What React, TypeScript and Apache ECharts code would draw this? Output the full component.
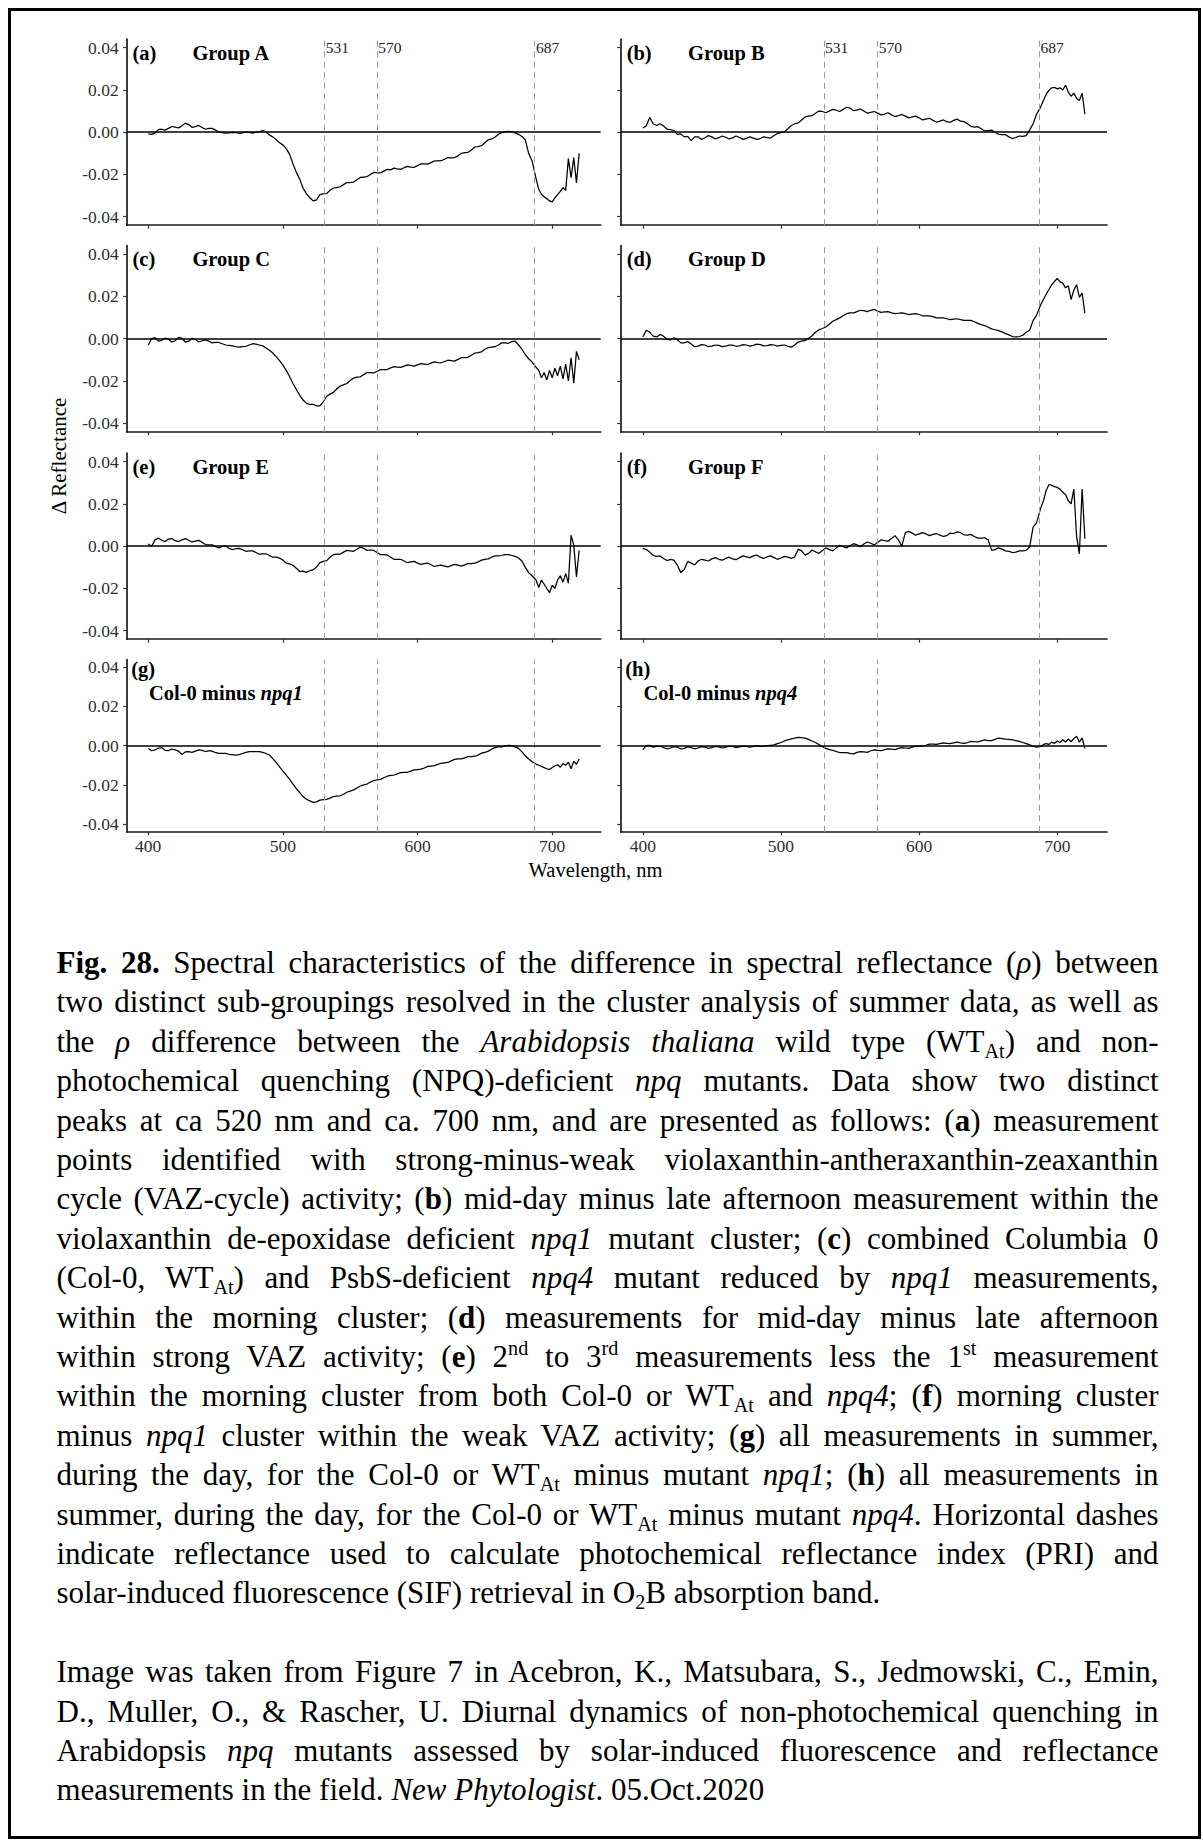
import React, { useEffect, useRef } from "react";
import * as echarts from "echarts";

// ---------------- data ----------------
const WAVELENGTHS = [
  400, 402.5, 405, 407.5, 410, 412.5, 415, 417.5, 420, 422.5,
  425, 427.5, 430, 432.5, 435, 437.5, 440, 442.5, 445, 447.5,
  450, 452.5, 455, 457.5, 460, 462.5, 465, 467.5, 470, 472.5,
  475, 477.5, 480, 482.5, 485, 487.5, 490, 492.5, 495, 497.5,
  500, 502.5, 505, 507.5, 510, 512.5, 515, 517.5, 520, 522.5,
  525, 527.5, 530, 532.5, 535, 537.5, 540, 542.5, 545, 547.5,
  550, 552.5, 555, 557.5, 560, 562.5, 565, 567.5, 570, 572.5,
  575, 577.5, 580, 582.5, 585, 587.5, 590, 592.5, 595, 597.5,
  600, 602.5, 605, 607.5, 610, 612.5, 615, 617.5, 620, 622.5,
  625, 627.5, 630, 632.5, 635, 637.5, 640, 642.5, 645, 647.5,
  650, 652.5, 655, 657.5, 660, 662.5, 665, 667.5, 670, 672.5,
  675, 677.5, 680, 682.5, 685,
  688,
  690, 692, 694, 696, 698, 700, 702, 704, 706, 708, 710, 712, 714, 716, 718, 720,
];

const GROUP_A = [
  -0.0008, -0.001, -0.0004, 0.0012, 0.0014, 0.001, 0.0018, 0.0027, 0.0024, 0.002,
  0.003, 0.0043, 0.0036, 0.0023, 0.0026, 0.0032, 0.0022, 0.0014, 0.0018, 0.0018,
  0.001, 0.0, -0.0002, -0.0004, -0.0003, -0.0001, -0.0002, -0.0005, -0.0003, 0.0,
  -0.0001, -0.0004, 0.0, 0.0002, 0.0008, 0.0002, -0.0014, -0.0022, -0.0036, -0.005,
  -0.006, -0.0078, -0.0105, -0.015, -0.019, -0.0222, -0.0265, -0.0292, -0.031, -0.0325,
  -0.032, -0.0295, -0.0292, -0.029, -0.0275, -0.0264, -0.0262, -0.0258, -0.0248, -0.0238,
  -0.0238, -0.0236, -0.0225, -0.0214, -0.0212, -0.021, -0.02, -0.019, -0.0192, -0.0192,
  -0.0184, -0.0176, -0.0178, -0.017, -0.0174, -0.0176, -0.0168, -0.0162, -0.0165, -0.0166,
  -0.0158, -0.015, -0.015, -0.0151, -0.0144, -0.0136, -0.0136, -0.0135, -0.0128, -0.012,
  -0.0121, -0.012, -0.0112, -0.01, -0.0097, -0.0095, -0.0084, -0.007, -0.0068, -0.0064,
  -0.005, -0.0036, -0.0032, -0.0024, -0.001, -0.0002, 0.0002, 0.0004, 0.0002, -0.0003,
  -0.001, -0.002, -0.0036, -0.01, -0.0135,
  -0.022,
  -0.027, -0.0295, -0.0305, -0.0315, -0.0325, -0.033, -0.031, -0.0295, -0.028, -0.0262, -0.0275, -0.0125, -0.0215, -0.012, -0.024, -0.01,
];
const GROUP_B = [
  0.002, 0.003, 0.007, 0.004, 0.0032, 0.004, 0.003, 0.0014, 0.0012, 0.0008,
  -0.001, -0.0008, -0.0022, -0.002, -0.004, -0.0022, -0.0022, -0.0034, -0.0026, -0.0016,
  -0.0022, -0.0032, -0.0026, -0.0018, -0.0024, -0.0032, -0.0027, -0.0018, -0.0025, -0.0034,
  -0.0029, -0.0022, -0.0028, -0.0034, -0.003, -0.0022, -0.0026, -0.0028, -0.0016, -0.0006,
  -0.0002, 0.0002, 0.0016, 0.0032, 0.004, 0.0044, 0.0058, 0.0072, 0.0076, 0.0078,
  0.009, 0.01, 0.0098, 0.0092, 0.01, 0.0108, 0.0104, 0.0098, 0.0108, 0.0118,
  0.0114, 0.0102, 0.0104, 0.011, 0.01, 0.009, 0.0094, 0.0098, 0.009, 0.0082,
  0.0086, 0.0092, 0.0082, 0.0074, 0.0078, 0.0084, 0.0076, 0.0068, 0.0072, 0.0076,
  0.0068, 0.0058, 0.0062, 0.0066, 0.0056, 0.0048, 0.0052, 0.0058, 0.005, 0.0047,
  0.0056, 0.0062, 0.0052, 0.005, 0.004, 0.0028, 0.0024, 0.0026, 0.0016, 0.0006,
  0.0008, 0.001, 0.0, -0.001, -0.0012, -0.0012, -0.0022, -0.003, -0.0025, -0.0018,
  -0.002, -0.0016, 0.001, 0.004, 0.0085,
  0.012,
  0.015, 0.018, 0.0198, 0.021, 0.0212, 0.0205, 0.021, 0.02, 0.0222, 0.019, 0.017, 0.0185, 0.016, 0.015, 0.0185, 0.0085,
];
const GROUP_C = [
  -0.003, 0.0, 0.0005, -0.0012, -0.0008, 0.0002, -0.0002, -0.0016, -0.001, 0.0006,
  0.0002, -0.0016, -0.0012, 0.0002, -0.0004, -0.0016, -0.001, -0.0006, -0.0012, -0.002,
  -0.0018, -0.0018, -0.0024, -0.003, -0.0032, -0.0034, -0.0038, -0.004, -0.0038, -0.0036,
  -0.003, -0.0024, -0.0026, -0.003, -0.0034, -0.0044, -0.0055, -0.0068, -0.0085, -0.0104,
  -0.0125, -0.015, -0.018, -0.0212, -0.024, -0.0268, -0.029, -0.0306, -0.031, -0.031,
  -0.0318, -0.0318, -0.0298, -0.0272, -0.0262, -0.0254, -0.0238, -0.0224, -0.0218, -0.0212,
  -0.0198, -0.0186, -0.0182, -0.018, -0.017, -0.016, -0.016, -0.0162, -0.0154, -0.0146,
  -0.0146, -0.0146, -0.0138, -0.0132, -0.0134, -0.0136, -0.013, -0.0124, -0.0126, -0.013,
  -0.0124, -0.0118, -0.012, -0.0122, -0.0116, -0.011, -0.0113, -0.0114, -0.0108, -0.0102,
  -0.0104, -0.0106, -0.0098, -0.009, -0.009, -0.0088, -0.0078, -0.0068, -0.0066, -0.0062,
  -0.005, -0.0042, -0.004, -0.0038, -0.003, -0.002, -0.002, -0.0022, -0.0014, -0.0012,
  -0.003, -0.005, -0.0075, -0.0095, -0.011,
  -0.0135,
  -0.015, -0.0185, -0.016, -0.0195, -0.015, -0.0185, -0.014, -0.0175, -0.013, -0.019, -0.012, -0.02, -0.009, -0.021, -0.006, -0.01,
];
const GROUP_D = [
  0.0008, 0.004, 0.003, 0.0012, 0.0008, 0.002, 0.0012, -0.0004, -0.0006, 0.0004,
  -0.0005, -0.002, -0.002, -0.0014, -0.0025, -0.0038, -0.0035, -0.0028, -0.003, -0.0038,
  -0.0035, -0.003, -0.0032, -0.0038, -0.0035, -0.003, -0.003, -0.0036, -0.0034, -0.0028,
  -0.003, -0.0035, -0.0032, -0.0026, -0.0028, -0.0034, -0.0033, -0.0028, -0.003, -0.0035,
  -0.0032, -0.003, -0.0036, -0.004, -0.003, -0.0016, -0.0012, -0.0008, 0.0002, 0.0014,
  0.003, 0.0042, 0.0048, 0.0055, 0.0068, 0.0082, 0.009, 0.0098, 0.0108, 0.0118,
  0.0122, 0.0122, 0.0128, 0.0134, 0.0132, 0.0128, 0.0134, 0.0138, 0.013, 0.0124,
  0.0126, 0.0128, 0.0122, 0.0118, 0.012, 0.0122, 0.0118, 0.0114, 0.0116, 0.0118,
  0.0114, 0.0108, 0.0108, 0.0108, 0.0104, 0.0098, 0.0098, 0.0098, 0.0094, 0.009,
  0.0092, 0.0094, 0.009, 0.0086, 0.0086, 0.0086, 0.008, 0.0072, 0.0066, 0.0062,
  0.0054, 0.0046, 0.0042, 0.0038, 0.0032, 0.0024, 0.0018, 0.001, 0.0008, 0.001,
  0.0016, 0.003, 0.004, 0.0085, 0.011,
  0.016,
  0.0185, 0.021, 0.0232, 0.0255, 0.027, 0.0285, 0.0268, 0.0262, 0.024, 0.025, 0.0185, 0.023, 0.0255, 0.0195, 0.0215, 0.012,
];
const GROUP_E = [
  0.001, 0.0, 0.003, 0.0038, 0.0028, 0.0022, 0.0034, 0.0036, 0.0026, 0.0022,
  0.003, 0.0036, 0.0028, 0.002, 0.0024, 0.0028, 0.0018, 0.0008, 0.0006, 0.0006,
  -0.0002, -0.0008, 0.0, 0.0, -0.001, -0.0016, -0.0012, -0.001, -0.0016, -0.0024,
  -0.0022, -0.0022, -0.003, -0.0038, -0.0036, -0.0036, -0.0044, -0.0052, -0.0052, -0.0056,
  -0.0066, -0.008, -0.0084, -0.009, -0.0104, -0.012, -0.0118, -0.0124, -0.0116, -0.0112,
  -0.0098, -0.0078, -0.0072, -0.0068, -0.0052, -0.004, -0.0038, -0.0038, -0.0028, -0.002,
  -0.0022, -0.0024, -0.0014, -0.0004, -0.001, -0.002, -0.0018, -0.002, -0.003, -0.004,
  -0.004, -0.0042, -0.0052, -0.0062, -0.0062, -0.0062, -0.007, -0.0078, -0.0074, -0.0072,
  -0.008, -0.0086, -0.0082, -0.008, -0.0088, -0.0096, -0.0092, -0.009, -0.0094, -0.0098,
  -0.0092, -0.0086, -0.009, -0.0094, -0.0088, -0.0082, -0.0082, -0.008, -0.0074, -0.0066,
  -0.0062, -0.006, -0.0052, -0.0046, -0.0046, -0.0044, -0.004, -0.004, -0.0044, -0.0048,
  -0.0056, -0.007, -0.01, -0.0125, -0.014,
  -0.016,
  -0.0195, -0.016, -0.018, -0.02, -0.022, -0.0185, -0.02, -0.016, -0.014, -0.017, -0.013, -0.0175, 0.0052, 0.0005, -0.0145, -0.002,
];
const GROUP_F = [
  -0.001, -0.0016, -0.0028, -0.0044, -0.0048, -0.0046, -0.0058, -0.0068, -0.0062, -0.0066,
  -0.009, -0.0125, -0.011, -0.0072, -0.008, -0.0088, -0.007, -0.0062, -0.0066, -0.007,
  -0.006, -0.0054, -0.0062, -0.0066, -0.0058, -0.0052, -0.006, -0.0064, -0.0054, -0.0046,
  -0.005, -0.0054, -0.0046, -0.0042, -0.0052, -0.0058, -0.005, -0.0046, -0.0054, -0.0062,
  -0.0056, -0.0048, -0.0052, -0.0058, -0.005, -0.0014, -0.0022, -0.0042, -0.0034, -0.0018,
  -0.0026, -0.0034, -0.002, -0.0008, -0.0016, -0.0022, -0.0008, 0.0004, -0.0002, -0.0008,
  0.0002, 0.0012, 0.0006, -0.0002, 0.001, 0.002, 0.0014, 0.0006, 0.0018, 0.003,
  0.0026, 0.0024, 0.0036, 0.005, 0.003, 0.0, 0.0064, 0.007, 0.0062, 0.0052,
  0.0058, 0.0064, 0.0058, 0.005, 0.0056, 0.006, 0.0052, 0.0046, 0.005, 0.0062,
  0.006, 0.0068, 0.0064, 0.0054, 0.0052, 0.0056, 0.0046, 0.0038, 0.0038, 0.004,
  0.003, -0.002, -0.0016, -0.0008, -0.0014, -0.0022, -0.0024, -0.003, -0.0028, -0.0022,
  -0.0022, -0.002, -0.0004, 0.009, 0.011,
  0.018,
  0.0215, 0.0265, 0.0292, 0.0288, 0.0282, 0.0278, 0.027, 0.0255, 0.0245, 0.0215, 0.02, 0.027, 0.0045, -0.0036, 0.027, 0.0035,
];
const COL0_MINUS_NPQ1 = [
  -0.0014, -0.0026, -0.0022, -0.0012, -0.001, -0.0024, -0.0025, -0.0018, -0.0022, -0.0028,
  -0.0045, -0.0032, -0.003, -0.0034, -0.0028, -0.0022, -0.0024, -0.003, -0.0026, -0.0028,
  -0.0036, -0.004, -0.004, -0.004, -0.0044, -0.0046, -0.0048, -0.0046, -0.004, -0.0034,
  -0.0031, -0.003, -0.003, -0.003, -0.0034, -0.004, -0.0048, -0.0066, -0.0086, -0.0108,
  -0.013, -0.015, -0.0172, -0.0196, -0.022, -0.024, -0.026, -0.0274, -0.0282, -0.029,
  -0.0287, -0.0278, -0.0276, -0.0274, -0.0268, -0.026, -0.0258, -0.0256, -0.0248, -0.0238,
  -0.0232, -0.0226, -0.0216, -0.0206, -0.02, -0.0196, -0.0186, -0.0178, -0.0175, -0.0172,
  -0.0164, -0.0156, -0.0152, -0.015, -0.0144, -0.0138, -0.0136, -0.0136, -0.013, -0.0124,
  -0.0122, -0.012, -0.0114, -0.0106, -0.0104, -0.0102, -0.0096, -0.009, -0.0088, -0.0086,
  -0.0078, -0.007, -0.0068, -0.0068, -0.0062, -0.0056, -0.0056, -0.0054, -0.0048, -0.0038,
  -0.0034, -0.0028, -0.0018, -0.001, -0.0006, -0.0006, -0.0001, 0.0002, 0.0, -0.0006,
  -0.0014, -0.0032, -0.0052, -0.0068, -0.0082,
  -0.0094,
  -0.01, -0.0106, -0.0112, -0.0118, -0.0122, -0.0112, -0.0104, -0.0098, -0.011, -0.0092, -0.01, -0.0085, -0.0118, -0.008, -0.0095, -0.0068,
];
const COL0_MINUS_NPQ4 = [
  -0.002, 0.0, 0.0002, -0.0008, -0.0004, -0.0002, -0.001, -0.0016, -0.0012, -0.0005,
  -0.0008, -0.0016, -0.0014, -0.0006, -0.001, -0.0016, -0.0012, -0.0005, -0.0008, -0.0014,
  -0.001, -0.0004, -0.0006, -0.0012, -0.0008, -0.0002, -0.0004, -0.001, -0.0006, -0.0002,
  -0.0004, -0.0008, -0.0004, 0.0, -0.0002, -0.0004, 0.0, 0.0002, 0.0004, 0.001,
  0.0016, 0.0024, 0.003, 0.0035, 0.0038, 0.0042, 0.0041, 0.0038, 0.0032, 0.0024,
  0.0016, 0.0006, -0.0004, -0.0014, -0.002, -0.0024, -0.003, -0.0036, -0.0036, -0.0036,
  -0.004, -0.0042, -0.0034, -0.003, -0.0032, -0.0034, -0.0026, -0.0022, -0.0024, -0.0026,
  -0.002, -0.0016, -0.0018, -0.002, -0.0014, -0.001, -0.0012, -0.0014, -0.0008, -0.0002,
  -0.0002, -0.0003, 0.0002, 0.0008, 0.0008, 0.0006, 0.001, 0.0014, 0.0012, 0.001,
  0.0014, 0.0018, 0.0014, 0.0012, 0.0016, 0.0022, 0.002, 0.0019, 0.0024, 0.0029,
  0.0026, 0.0026, 0.0032, 0.0038, 0.0036, 0.0033, 0.0032, 0.003, 0.0026, 0.0022,
  0.0016, 0.001, 0.0004, -0.0002, -0.0008,
  -0.0004,
  0.0006, 0.001, 0.0006, 0.0018, 0.0012, 0.0024, 0.0016, 0.003, 0.0018, 0.0034, 0.002, 0.0036, 0.0048, 0.0018, 0.004, -0.0014,
];

const GUIDE_WAVELENGTHS = [531, 570, 687];
const X_TICKS = [400, 500, 600, 700];
const Y_TICKS = [-0.04, -0.02, 0, 0.02, 0.04];

const PANELS = [
  { tag: "(a)", title: "Group A", italic: "", values: GROUP_A },
  { tag: "(b)", title: "Group B", italic: "", values: GROUP_B },
  { tag: "(c)", title: "Group C", italic: "", values: GROUP_C },
  { tag: "(d)", title: "Group D", italic: "", values: GROUP_D },
  { tag: "(e)", title: "Group E", italic: "", values: GROUP_E },
  { tag: "(f)", title: "Group F", italic: "", values: GROUP_F },
  { tag: "(g)", title: "Col-0 minus ", italic: "npq1", values: COL0_MINUS_NPQ1 },
  { tag: "(h)", title: "Col-0 minus ", italic: "npq4", values: COL0_MINUS_NPQ4 },
];

// ---------------- layout ----------------
const FONT = '"Liberation Serif", "Times New Roman", serif';
const XMIN = 384;
const XMAX = 736;
const YMIN = -0.044;
const YMAX = 0.044;
const COLS = [
  { left: 126.7, width: 474 },
  { left: 620.7, width: 486.3 },
];
const ROWS = [
  { top: 39.2, height: 186 },
  { top: 245.5, height: 186.3 },
  { top: 453.2, height: 186 },
  { top: 659.5, height: 172.3 },
];

function buildOption() {
  const grid = PANELS.map((_, i) => ({
    left: COLS[i % 2].left,
    width: COLS[i % 2].width,
    top: ROWS[Math.floor(i / 2)].top,
    height: ROWS[Math.floor(i / 2)].height,
  }));
  const xAxis = PANELS.map((_, i) => ({
    type: "value",
    gridIndex: i,
    min: XMIN,
    max: XMAX,
    axisLine: { show: true, onZero: false, lineStyle: { color: "#1a1a1a", width: 1.7 } },
    axisTick: { show: true, length: 3.5, customValues: X_TICKS, lineStyle: { color: "#333", width: 1.2 } },
    axisLabel: {
      show: Math.floor(i / 2) === 3,
      customValues: X_TICKS,
      margin: 5,
      fontFamily: FONT,
      fontSize: 17.5,
      color: "#2e2e2e",
    },
    splitLine: { show: false },
  }));
  const yAxis = PANELS.map((_, i) => ({
    type: "value",
    gridIndex: i,
    min: YMIN,
    max: YMAX,
    axisLine: { show: true, onZero: false, lineStyle: { color: "#1a1a1a", width: 1.7 } },
    axisTick: { show: true, length: 3.5, customValues: Y_TICKS, lineStyle: { color: "#333", width: 1.2 } },
    axisLabel: {
      show: i % 2 === 0,
      customValues: Y_TICKS,
      margin: 8,
      fontFamily: FONT,
      fontSize: 17.5,
      color: "#2e2e2e",
      formatter: (v: number) => (Math.abs(v) < 1e-9 ? "0.00" : v.toFixed(2)),
    },
    splitLine: { show: false },
  }));
  const series: any[] = [];
  PANELS.forEach((p, i) => {
    series.push({
      type: "line",
      xAxisIndex: i,
      yAxisIndex: i,
      z: 1,
      silent: true,
      data: [[WAVELENGTHS[0], 0]],
      showSymbol: false,
      symbol: "none",
      lineStyle: { opacity: 0 },
      markLine: {
        silent: true,
        symbol: ["none", "none"],
        label: { show: false },
        animation: false,
        data: [
          ...GUIDE_WAVELENGTHS.map((w) => ({
            xAxis: w,
            lineStyle: { type: [6, 4.5], color: "#9a9a9a", width: 1 },
          })),
          { yAxis: 0, lineStyle: { type: "solid", color: "#000", width: 1.5 } },
        ],
      },
    });
    series.push({
      type: "line",
      xAxisIndex: i,
      yAxisIndex: i,
      z: 3,
      silent: true,
      data: WAVELENGTHS.map((w, k) => [w, p.values[k]]),
      showSymbol: false,
      symbol: "none",
      lineStyle: { color: "#000", width: 1.25 },
    });
  });
  return {
    animation: false,
    textStyle: { fontFamily: FONT, fontSize: 17.5, color: "#2e2e2e" },
    grid,
    xAxis,
    yAxis,
    series,
  };
}

const CAP_LEFT = 56.5;
const CAP_WIDTH = 1102;
const CAP_TOP = 943;
const LH = 39.4;
const subS: React.CSSProperties = { fontSize: "0.65em", verticalAlign: "-0.28em", lineHeight: 0 };
const supS: React.CSSProperties = { fontSize: "0.65em", verticalAlign: "0.6em", lineHeight: 0 };
const WT = (
  <>
    WT<span style={subS}>At</span>
  </>
);

const CAPTION_LINES: React.ReactNode[] = [
  <><b>Fig. 28.</b> Spectral characteristics of the difference in spectral reflectance (<i>ρ</i>) between</>,
  <>two distinct sub-groupings resolved in the cluster analysis of summer data, as well as</>,
  <>the <i>ρ</i> difference between the <i>Arabidopsis thaliana</i> wild type ({WT}) and non-</>,
  <>photochemical quenching (NPQ)-deficient <i>npq</i> mutants. Data show two distinct</>,
  <>peaks at ca 520 nm and ca. 700 nm, and are presented as follows: (<b>a</b>) measurement</>,
  <>points identified with strong-minus-weak violaxanthin-antheraxanthin-zeaxanthin</>,
  <>cycle (VAZ-cycle) activity; (<b>b</b>) mid-day minus late afternoon measurement within the</>,
  <>violaxanthin de-epoxidase deficient <i>npq1</i> mutant cluster; (<b>c</b>) combined Columbia 0</>,
  <>(Col-0, {WT}) and PsbS-deficient <i>npq4</i> mutant reduced by <i>npq1</i> measurements,</>,
  <>within the morning cluster; (<b>d</b>) measurements for mid-day minus late afternoon</>,
  <>within strong VAZ activity; (<b>e</b>) 2<span style={supS}>nd</span> to 3<span style={supS}>rd</span> measurements less the 1<span style={supS}>st</span> measurement</>,
  <>within the morning cluster from both Col-0 or {WT} and <i>npq4</i>; (<b>f</b>) morning cluster</>,
  <>minus <i>npq1</i> cluster within the weak VAZ activity; (<b>g</b>) all measurements in summer,</>,
  <>during the day, for the Col-0 or {WT} minus mutant <i>npq1</i>; (<b>h</b>) all measurements in</>,
  <>summer, during the day, for the Col-0 or {WT} minus mutant <i>npq4</i>. Horizontal dashes</>,
  <>indicate reflectance used to calculate photochemical reflectance index (PRI) and</>,
  <>solar-induced fluorescence (SIF) retrieval in O<span style={subS}>2</span>B absorption band.</>,
];
const SOURCE_LINES: React.ReactNode[] = [
  <>Image was taken from Figure 7 in Acebron, K., Matsubara, S., Jedmowski, C., Emin,</>,
  <>D., Muller, O., &amp; Rascher, U. Diurnal dynamics of non-photochemical quenching in</>,
  <>Arabidopsis <i>npq</i> mutants assessed by solar-induced fluorescence and reflectance</>,
  <>measurements in the field. <i>New Phytologist</i>. 05.Oct.2020</>,
];

function CapLine({ index, last, children }: { index: number; last: boolean; children: React.ReactNode }) {
  return (
    <div
      style={{
        position: "absolute",
        left: CAP_LEFT,
        top: CAP_TOP + index * LH,
        width: CAP_WIDTH,
        height: LH,
        lineHeight: LH + "px",
        fontSize: 31,
        fontFamily: FONT,
        color: "#000",
        textAlign: last ? "left" : "justify",
        textAlignLast: last ? "left" : "justify",
      }}
    >
      {children}
    </div>
  );
}

export default function App() {
  const ref = useRef<HTMLDivElement>(null);
  useEffect(() => {
    if (!ref.current) return;
    const chart = echarts.init(ref.current, null, { renderer: "svg" });
    chart.setOption(buildOption());
    const g: any[] = [];
    const px = (i: number, x: number, y: number) =>
      chart.convertToPixel({ xAxisIndex: i, yAxisIndex: i }, [x, y]) as number[];
    [0, 1].forEach((i) => {
      GUIDE_WAVELENGTHS.forEach((w) => {
        const [x, y] = px(i, w, 0.04);
        g.push({
          type: "text",
          x: x + 1.2,
          y,
          silent: true,
          style: { text: String(w), fontFamily: FONT, fontSize: 15.5, fill: "#222", align: "left", verticalAlign: "middle" },
        });
      });
    });
    PANELS.forEach((p, i) => {
      const bottom = Math.floor(i / 2) === 3;
      const [tx, ty] = px(i, bottom ? 387.3 : 388.3, bottom ? 0.039 : 0.0374);
      g.push({
        type: "text",
        x: tx,
        y: ty,
        silent: true,
        style: { text: p.tag, fontFamily: FONT, fontSize: 20.5, fontWeight: "bold", fill: "#000", align: "left", verticalAlign: "middle" },
      });
      const [hx, hy] = px(i, bottom ? 400.5 : 432.8, bottom ? 0.0267 : 0.0374);
      const rich = {
        b: { fontFamily: FONT, fontSize: 20.5, fontWeight: "bold", fill: "#000" },
        bi: { fontFamily: FONT, fontSize: 20.5, fontWeight: "bold", fontStyle: "italic", fill: "#000" },
      };
      g.push({
        type: "text",
        x: hx,
        y: hy,
        silent: true,
        style: {
          text: p.italic ? `{b|${p.title}}{bi|${p.italic}}` : `{b|${p.title}}`,
          rich,
          align: "left",
          verticalAlign: "middle",
        },
      });
    });
    g.push({
      type: "text",
      x: 59,
      y: 456,
      rotation: Math.PI / 2,
      silent: true,
      style: { text: "Δ Reflectance", fontFamily: FONT, fontSize: 21, fill: "#000", align: "center", verticalAlign: "middle" },
    });
    g.push({
      type: "text",
      x: 595.5,
      y: 870,
      silent: true,
      style: { text: "Wavelength, nm", fontFamily: FONT, fontSize: 20.5, fill: "#000", align: "center", verticalAlign: "middle" },
    });
    chart.setOption({ graphic: g });
    return () => chart.dispose();
  }, []);

  return (
    <div style={{ position: "fixed", left: 0, top: 0, width: 1203, height: 1843, background: "#fff", overflow: "hidden" }}>
      <div ref={ref} style={{ position: "absolute", left: 0, top: 0, width: 1203, height: 900 }} />
      <div
        style={{
          position: "absolute",
          left: 8,
          top: 8,
          width: 1193,
          height: 1831,
          border: "3px solid #000",
          boxSizing: "border-box",
          pointerEvents: "none",
        }}
      />
      {CAPTION_LINES.map((l, k) => (
        <CapLine key={"c" + k} index={k} last={k === CAPTION_LINES.length - 1}>
          {l}
        </CapLine>
      ))}
      {SOURCE_LINES.map((l, k) => (
        <CapLine key={"s" + k} index={CAPTION_LINES.length + 1 + k} last={k === SOURCE_LINES.length - 1}>
          {l}
        </CapLine>
      ))}
    </div>
  );
}
